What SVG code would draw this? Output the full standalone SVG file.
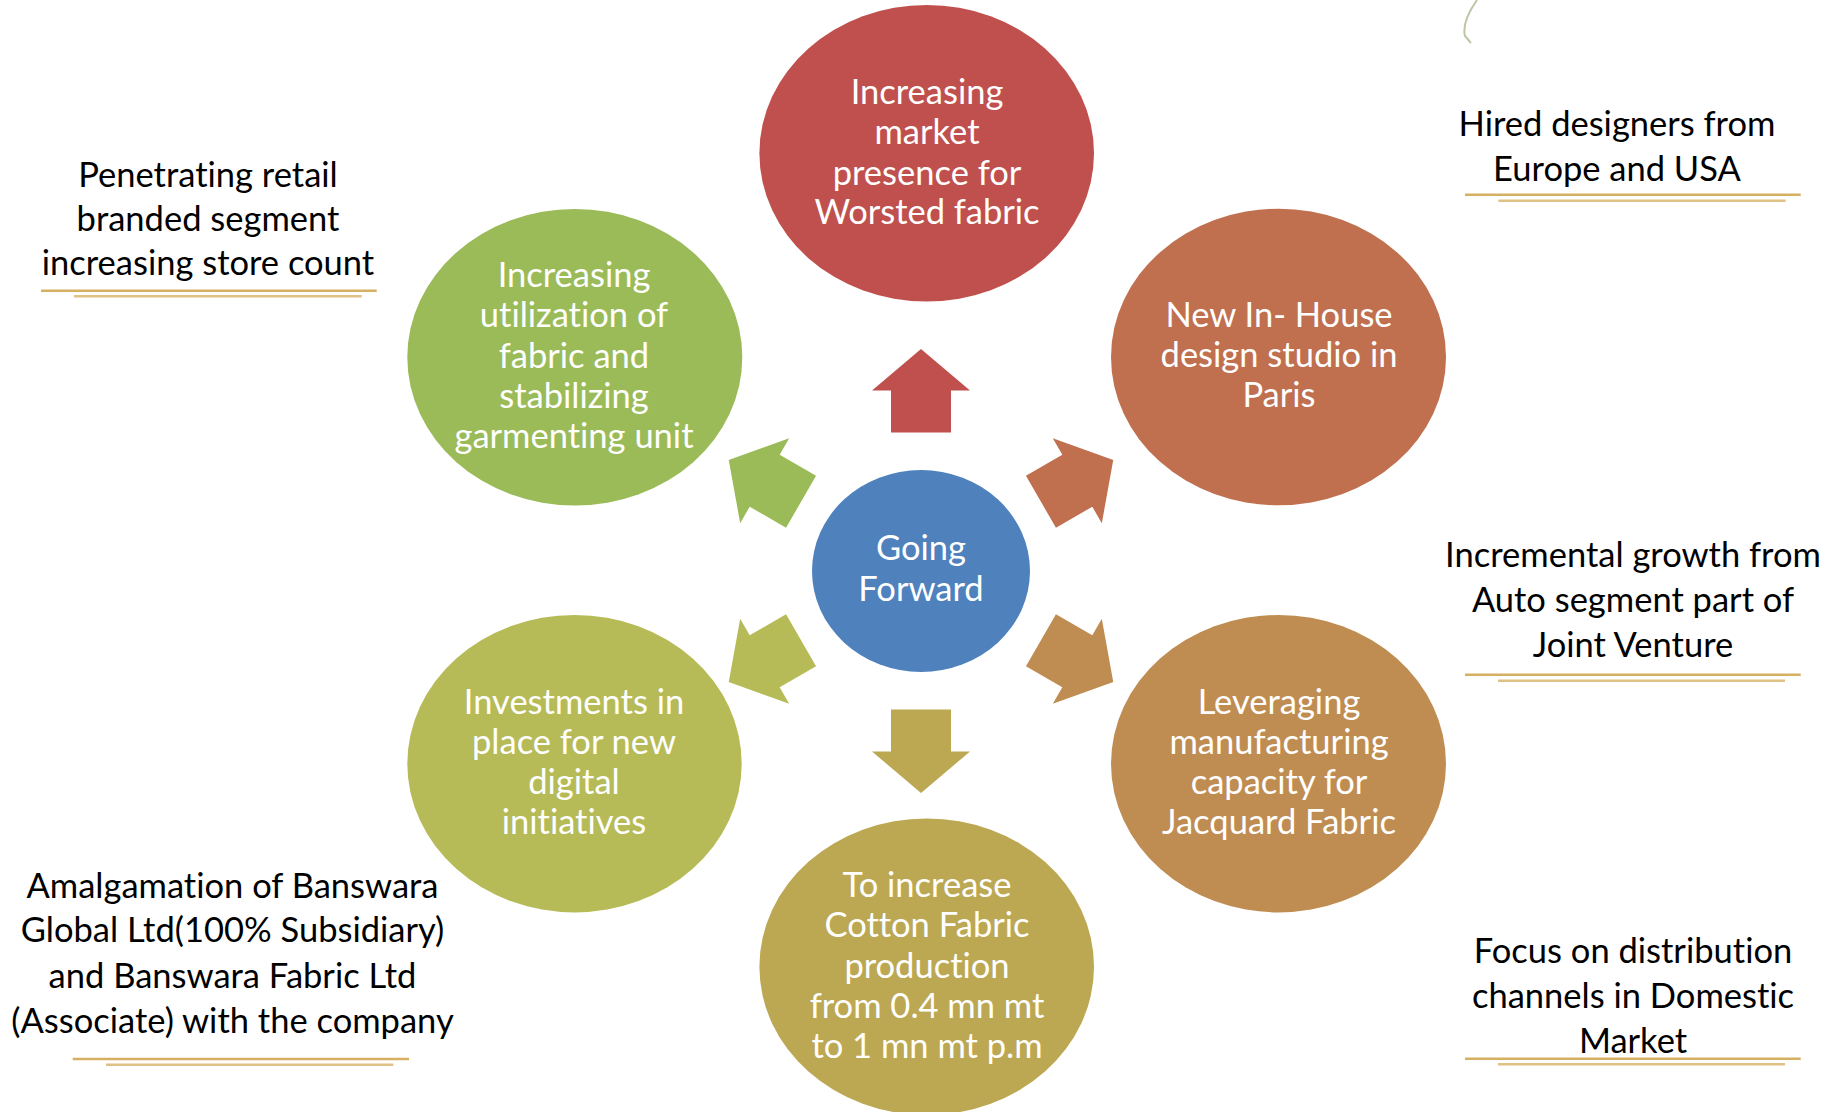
<svg xmlns="http://www.w3.org/2000/svg" xmlns:xlink="http://www.w3.org/1999/xlink" width="1837" height="1112" viewBox="0 0 1837 1112">
<style>
text{font-family:Lato,"Open Sans","Liberation Sans",sans-serif;font-size:34.5px;text-anchor:middle;font-variant-ligatures:none}
.w{fill:#ffffff}
.b{fill:#000000}
.u1{stroke:#D5B063;stroke-width:2.5;fill:none}
.u2{stroke:#E0C186;stroke-width:2.5;fill:none}
</style>
<defs>
<path id="arrow" d="M0,-222 L49,-180.5 L30,-180.5 L30,-138.5 L-30,-138.5 L-30,-180.5 L-49,-180.5 Z"/>
</defs>
<rect width="1837" height="1112" fill="#ffffff"/>
<path d="M1477,0 C1470,10 1462,24 1465,36 L1471,43" stroke="#BCC7A6" stroke-width="2" fill="none"/>

<g id="connectors">
<use xlink:href="#arrow" href="#arrow" transform="translate(921,571)" fill="#C0504D"/>
<use xlink:href="#arrow" href="#arrow" transform="translate(921,571) rotate(60)" fill="#C0704F"/>
<use xlink:href="#arrow" href="#arrow" transform="translate(921,571) rotate(120)" fill="#BF8D52"/>
<use xlink:href="#arrow" href="#arrow" transform="translate(921,571) rotate(180)" fill="#BCA853"/>
<use xlink:href="#arrow" href="#arrow" transform="translate(921,571) rotate(240)" fill="#B6BB58"/>
<use xlink:href="#arrow" href="#arrow" transform="translate(921,571) rotate(300)" fill="#9BBB59"/>
</g>

<g id="node-center">
<ellipse cx="921" cy="571" rx="109" ry="101" fill="#4F81BD"/>
<text class="w" x="921" y="560">Going</text>
<text class="w" x="921" y="601">Forward</text>
</g>

<g id="node-top">
<ellipse cx="926.7" cy="153.3" rx="167.3" ry="148.3" fill="#C0504D"/>
<text class="w" x="927" y="104">Increasing</text>
<text class="w" x="927" y="144">market</text>
<text class="w" x="927" y="185">presence for</text>
<text class="w" x="927" y="224">Worsted fabric</text>
</g>

<g id="node-upper-right">
<ellipse cx="1278.5" cy="357" rx="167.5" ry="148.3" fill="#C0704F"/>
<text class="w" x="1279" y="327">New In- House</text>
<text class="w" x="1279" y="367">design studio in</text>
<text class="w" x="1279" y="407">Paris</text>
</g>

<g id="node-lower-right">
<ellipse cx="1278.5" cy="763.7" rx="167.5" ry="148.7" fill="#BF8D52"/>
<text class="w" x="1279" y="714">Leveraging</text>
<text class="w" x="1279" y="754">manufacturing</text>
<text class="w" x="1279" y="794">capacity for</text>
<text class="w" x="1279" y="834">Jacquard Fabric</text>
</g>

<g id="node-bottom">
<ellipse cx="926.7" cy="966.7" rx="167.3" ry="148.3" fill="#BCA853"/>
<text class="w" x="927" y="897">To increase</text>
<text class="w" x="927" y="937">Cotton Fabric</text>
<text class="w" x="927" y="978">production</text>
<text class="w" x="927" y="1018">from 0.4 mn mt</text>
<text class="w" x="927" y="1058">to 1 mn mt p.m</text>
</g>

<g id="node-lower-left">
<ellipse cx="574.5" cy="763.7" rx="167.2" ry="148.7" fill="#B6BB58"/>
<text class="w" x="574" y="714">Investments in</text>
<text class="w" x="574" y="754">place for new</text>
<text class="w" x="574" y="794">digital</text>
<text class="w" x="574" y="834">initiatives</text>
</g>

<g id="node-upper-left">
<ellipse cx="574.8" cy="357.3" rx="167.5" ry="148.3" fill="#9BBB59"/>
<text class="w" x="574" y="287">Increasing</text>
<text class="w" x="574" y="327">utilization of</text>
<text class="w" x="574" y="368">fabric and</text>
<text class="w" x="574" y="408">stabilizing</text>
<text class="w" x="574" y="448">garmenting unit</text>
</g>

<g id="note-retail">
<text class="b" x="208" y="187">Penetrating retail</text>
<text class="b" x="208" y="231">branded segment</text>
<text class="b" x="208" y="275">increasing store count</text>
<line class="u1" x1="41" y1="290.7" x2="376.7" y2="290.7"/>
<line class="u2" x1="74" y1="296.3" x2="361.7" y2="296.3"/>
</g>

<g id="note-designers">
<text class="b" x="1617" y="136">Hired designers from</text>
<text class="b" x="1617" y="181">Europe and USA</text>
<line class="u1" x1="1465" y1="194.7" x2="1800.7" y2="194.7"/>
<line class="u2" x1="1498.3" y1="200.7" x2="1785.7" y2="200.7"/>
</g>

<g id="note-auto">
<text class="b" x="1633" y="567">Incremental growth from</text>
<text class="b" x="1633" y="612">Auto segment part of</text>
<text class="b" x="1633" y="657">Joint Venture</text>
<line class="u1" x1="1465" y1="674.7" x2="1800.7" y2="674.7"/>
<line class="u2" x1="1498" y1="680.7" x2="1785" y2="680.7"/>
</g>

<g id="note-distribution">
<text class="b" x="1633" y="963">Focus on distribution</text>
<text class="b" x="1633" y="1008">channels in Domestic</text>
<text class="b" x="1633" y="1053">Market</text>
<line class="u1" x1="1465" y1="1058.7" x2="1800.7" y2="1058.7"/>
<line class="u2" x1="1498" y1="1064.3" x2="1785" y2="1064.3"/>
</g>

<g id="note-amalgamation">
<text class="b" x="232.5" y="898">Amalgamation of Banswara</text>
<text class="b" x="232.5" y="942">Global Ltd(100% Subsidiary)</text>
<text class="b" x="232.5" y="988">and Banswara Fabric Ltd</text>
<text class="b" x="232.5" y="1033">(Associate) with the company</text>
<line class="u1" x1="72.7" y1="1059" x2="409" y2="1059"/>
<line class="u2" x1="106" y1="1064.7" x2="393.3" y2="1064.7"/>
</g>
</svg>
